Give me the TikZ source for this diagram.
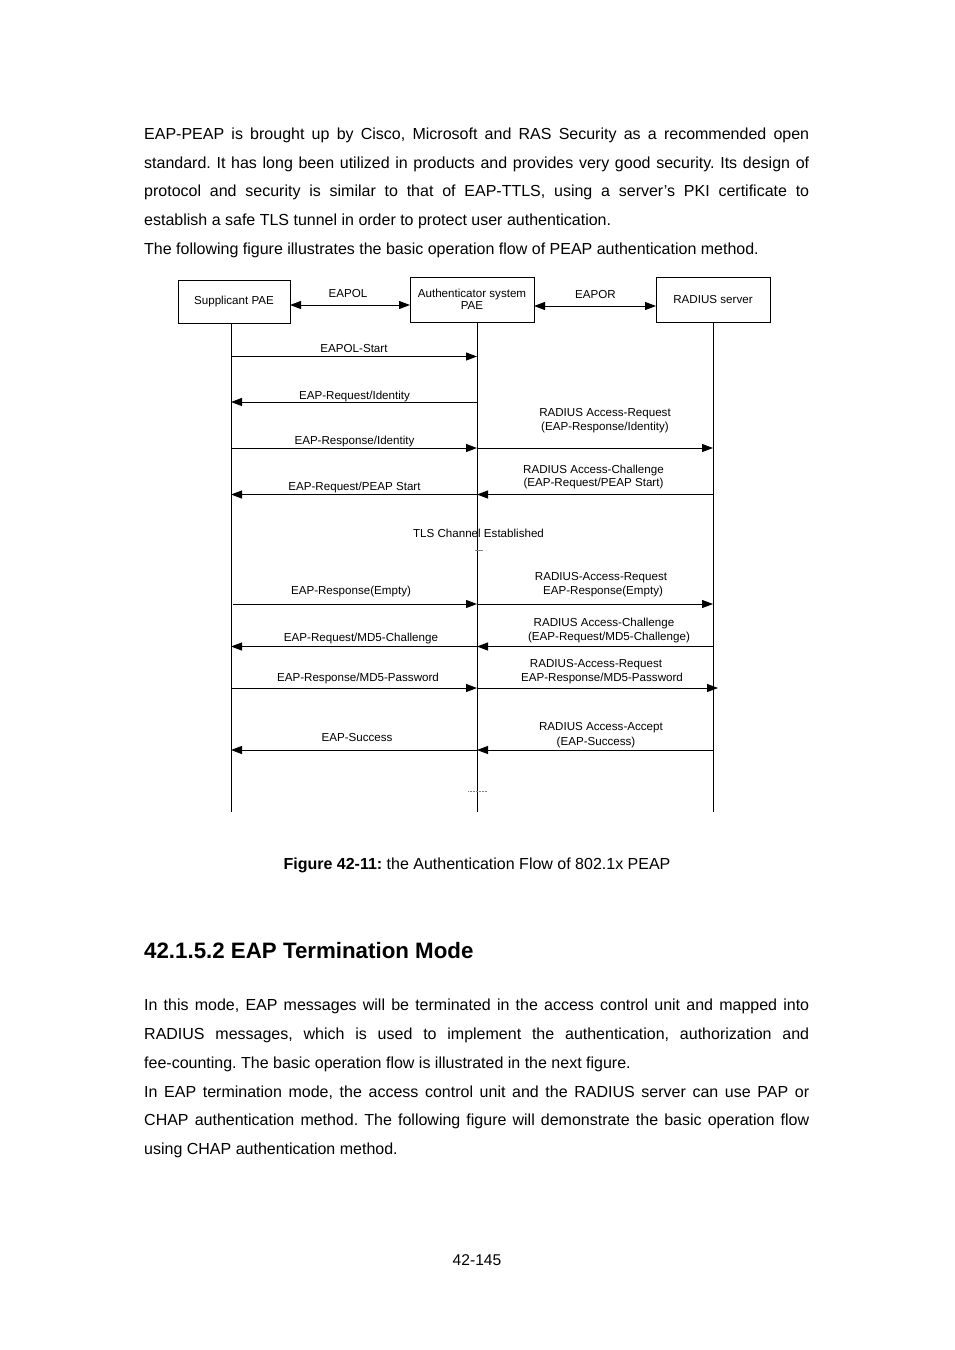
\documentclass[tikz,border=0pt]{standalone}
\usepackage{fontspec}
\setmainfont{Liberation Sans}
\usetikzlibrary{arrows.meta}
\begin{document}
\frenchspacing
\begin{tikzpicture}[x=1pt,y=-1pt,
  body/.style={anchor=base west,inner sep=0pt,font=\fontsize{16}{20}\selectfont},
  lab/.style={inner sep=0pt,anchor=base,font=\fontsize{11.6}{13.8}\selectfont},
  actor/.style={draw,line width=1pt,inner sep=0pt,align=center,font=\fontsize{11.6}{12.4}\selectfont},
  life/.style={line width=1pt},
  msg/.style={line width=1pt,-{Triangle[length=11pt,width=8pt]}},
  dmsg/.style={line width=1pt,{Triangle[length=11pt,width=8pt]}-{Triangle[length=11pt,width=8pt]}},
  faint/.style={line width=0.5pt,gray}]
\useasboundingbox (0,0) rectangle (954,1350);
\fill[white] (0,0) rectangle (954,1350);
% ---- paragraph 1
\node[body] (p1a) at (144,139) {\makebox[665pt][s]{EAP-PEAP is brought up by Cisco, Microsoft and RAS Security as a recommended open}};
\node[body] (p1b) at (144,168) {\makebox[665pt][s]{standard. It has long been utilized in products and provides very good security. Its design of}};
\node[body] (p1c) at (144,196) {\makebox[665pt][s]{protocol and security is similar to that of EAP-TTLS, using a server’s PKI certificate to}};
\node[body] (p1d) at (144,225) {establish a safe TLS tunnel in order to protect user authentication.};
\node[body] (p1e) at (144,254) {The following figure illustrates the basic operation flow of PEAP authentication method.};
% ---- actors
\node[actor,minimum width=112pt,minimum height=43pt] (sup) at (234,301.5) {Supplicant PAE};
\node[actor,minimum width=124pt,minimum height=45pt] (aut) at (472,299.5) {Authenticator system\\PAE};
\node[actor,minimum width=114pt,minimum height=45pt] (rad) at (713,299.5) {RADIUS server};
\coordinate (e1) at (290,305);
\coordinate (e2) at (410,305);
\coordinate (e3) at (534,306);
\coordinate (e4) at (656,306);
\draw[dmsg] (e1) -- (e2);
\draw[dmsg] (e3) -- (e4);
\node[lab] (leapol) at (348,297) {EAPOL};
\node[lab] (leapor) at (595.5,298) {EAPOR};
% ---- lifelines
\coordinate (sT) at (231,323); \coordinate (sB) at (231,812);
\coordinate (aT) at (477,322); \coordinate (aB) at (477,812);
\coordinate (rT) at (713,322); \coordinate (rB) at (713,812);
\draw[life] (sT) -- (sB);
\draw[life] (aT) -- (aB);
\draw[life] (rT) -- (rB);
% ---- messages
\coordinate (s1) at (231,356.5); \coordinate (a1) at (477,356.5);
\draw[msg] (s1) -- (a1);
\node[lab] (m1) at (354,352.5) {EAPOL-Start};
\coordinate (s2) at (231,402); \coordinate (a2) at (477,402);
\draw[msg] (a2) -- (s2);
\node[lab] (m2) at (354.5,399) {EAP-Request/Identity};
\coordinate (s3) at (231,448); \coordinate (a3) at (477,448); \coordinate (r3) at (713,448);
\draw[msg] (s3) -- (a3);
\draw[msg] (a3) -- (r3);
\node[lab] (m3) at (354.5,444) {EAP-Response/Identity};
\node[lab] (m3a) at (605,416) {RADIUS Access-Request};
\node[lab] (m3b) at (605,430) {(EAP-Response/Identity)};
\coordinate (s4) at (231,494.5); \coordinate (a4) at (477,494.5); \coordinate (r4) at (713,494.5);
\draw[msg] (a4) -- (s4);
\draw[msg] (r4) -- (a4);
\node[lab] (m4) at (354.5,490) {EAP-Request/PEAP Start};
\node[lab] (m4a) at (593.5,473) {RADIUS Access-Challenge};
\node[lab] (m4b) at (593.5,486) {(EAP-Request/PEAP Start)};
\node[lab] (tls) at (478.5,537) {TLS Channel Established};
\coordinate (t1) at (475,550); \coordinate (t2) at (483,550);
\draw[faint] (t1) -- (t2);
\coordinate (s5) at (233,604); \coordinate (a5) at (477,604); \coordinate (r5) at (713,604);
\draw[msg] (s5) -- (a5);
\draw[msg] (a5) -- (r5);
\node[lab] (m5) at (351,594) {EAP-Response(Empty)};
\node[lab] (m5a) at (601,580) {RADIUS-Access-Request};
\node[lab] (m5b) at (603,594) {EAP-Response(Empty)};
\coordinate (s6) at (231,646.5); \coordinate (a6) at (477,646.5); \coordinate (r6) at (713,646.5);
\draw[msg] (a6) -- (s6);
\draw[msg] (r6) -- (a6);
\node[lab] (m6) at (361,641) {EAP-Request/MD5-Challenge};
\node[lab] (m6a) at (604,626) {RADIUS Access-Challenge};
\node[lab] (m6b) at (609,640.5) {(EAP-Request/MD5-Challenge)};
\coordinate (s7) at (231,688); \coordinate (a7) at (477,688); \coordinate (r7) at (718,688);
\draw[msg] (s7) -- (a7);
\draw[msg] (a7) -- (r7);
\node[lab] (m7) at (358,681) {EAP-Response/MD5-Password};
\node[lab] (m7a) at (596,667) {RADIUS-Access-Request};
\node[lab] (m7b) at (602,681) {EAP-Response/MD5-Password};
\coordinate (s8) at (231,750); \coordinate (a8) at (477,750); \coordinate (r8) at (713,750);
\draw[msg] (a8) -- (s8);
\draw[msg] (r8) -- (a8);
\node[lab] (m8) at (357,741) {EAP-Success};
\node[lab] (m8a) at (601,730) {RADIUS Access-Accept};
\node[lab] (m8b) at (596,745) {(EAP-Success)};
\coordinate (d1) at (468,791); \coordinate (d2) at (487,791);
\draw[faint,densely dotted] (d1) -- (d2);
% ---- caption, heading, paragraph 2
\node[inner sep=0pt,anchor=base,font=\fontsize{16}{19}\selectfont] (cap) at (477,869.5) {\textbf{Figure 42-11:} the Authentication Flow of 802.1x PEAP};
\node[inner sep=0pt,anchor=base west,font=\fontsize{22.3}{26}\selectfont\bfseries] (head) at (144,958) {42.1.5.2 EAP Termination Mode};
\node[body] (p2a) at (144,1010) {\makebox[665pt][s]{In this mode, EAP messages will be terminated in the access control unit and mapped into}};
\node[body] (p2b) at (144,1039) {\makebox[665pt][s]{RADIUS messages, which is used to implement the authentication, authorization and}};
\node[body] (p2c) at (144,1068) {fee-counting. The basic operation flow is illustrated in the next figure.};
\node[body] (p2d) at (144,1097) {\makebox[665pt][s]{In EAP termination mode, the access control unit and the RADIUS server can use PAP or}};
\node[body] (p2e) at (144,1125) {\makebox[665pt][s]{CHAP authentication method. The following figure will demonstrate the basic operation flow}};
\node[body] (p2f) at (144,1154) {using CHAP authentication method.};
\node[inner sep=0pt,anchor=base,font=\fontsize{15.6}{18}\selectfont] (pg) at (477,1265.5) {42-145};
\end{tikzpicture}
\end{document}
